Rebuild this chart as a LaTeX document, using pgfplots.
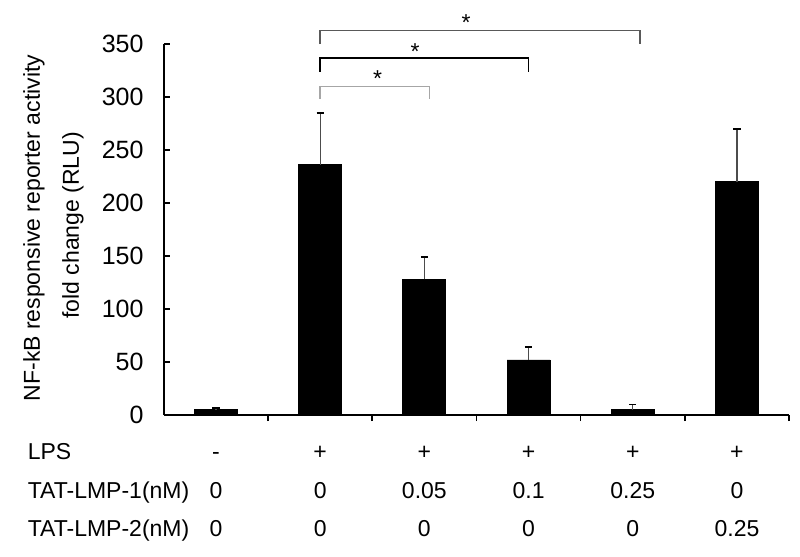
\documentclass[border=0pt]{standalone}
\usepackage{fontspec}
\setmainfont{Liberation Sans}
\usepackage{pgfplots}
\pgfplotsset{compat=1.18}
\pgfplotstableread{
x y e
0 5 2
1 236 49
2 128 21
3 52 12
4 5 5
5 220 50
}\datatab
\begin{document}
\begin{tikzpicture}[every node/.style={font=\fontsize{11.5}{13}\selectfont, inner sep=0pt}]
\begin{axis}[
 scale only axis, width=312.5pt, height=185.5pt,
 xmin=-0.5, xmax=5.5, ymin=0, ymax=350,
 axis lines=left, axis line style={-, line width=0.9pt},
 clip=false,
 xtick={0.5,1.5,2.5,3.5,4.5,5.5}, xticklabels={},
 ytick={0,50,...,350},
 tick align=inside, major tick length=3pt,
 tick style={line width=0.8pt, black},
 yticklabel style={inner sep=0pt, xshift=-10pt},
 /pgf/number format/assume math mode=true,
 ticklabel style={font=\fontsize{12.5}{14}\selectfont},
 ybar, bar width=21.5pt,
]
\addplot[fill=black, draw=black,
  error bars/.cd, y dir=plus, y explicit,
  error bar style={line width=0.6pt, color=black!70},
  error mark options={rotate=90, mark size=1.8pt, line width=0.9pt, black}]
  table[x=x, y=y, y error=e] {\datatab};

% significance brackets
\draw[gray!70, line width=0.7pt] (axis cs:1,298) -- (axis cs:1,310) -- (axis cs:2.05,310) -- (axis cs:2.05,298);
\draw[black, line width=0.9pt] (axis cs:1,323.6) -- (axis cs:1,337) -- (axis cs:3,337) -- (axis cs:3,323.6);
\draw[black!65, line width=0.7pt] (axis cs:1,350) -- (axis cs:1,363) -- (axis cs:4.07,363) -- (axis cs:4.07,350);
\node at (axis cs:1.55,317) {*};
\node at (axis cs:1.91,342.5) {*};
\node at (axis cs:2.40,370) {*};

% y label
\node[rotate=90] at (axis cs:-1.747,176.4) {NF-kB responsive reporter activity};
\node[rotate=90] at (axis cs:-1.372,179) {fold change (RLU)};

% table below
\node[anchor=base west] at (axis cs:-1.81,-41.5) {LPS};
\node[anchor=base west] at (axis cs:-1.81,-78.3) {TAT-LMP-1(nM)};
\node[anchor=base west] at (axis cs:-1.81,-114.2) {TAT-LMP-2(nM)};
\node[anchor=base] at (axis cs:0,-41.5) {-};
\node[anchor=base] at (axis cs:1,-41.5) {+};
\node[anchor=base] at (axis cs:2,-41.5) {+};
\node[anchor=base] at (axis cs:3,-41.5) {+};
\node[anchor=base] at (axis cs:4,-41.5) {+};
\node[anchor=base] at (axis cs:5,-41.5) {+};
\node[anchor=base] at (axis cs:0,-78.3) {0};
\node[anchor=base] at (axis cs:1,-78.3) {0};
\node[anchor=base] at (axis cs:2,-78.3) {0.05};
\node[anchor=base] at (axis cs:3,-78.3) {0.1};
\node[anchor=base] at (axis cs:4,-78.3) {0.25};
\node[anchor=base] at (axis cs:5,-78.3) {0};
\node[anchor=base] at (axis cs:0,-114.2) {0};
\node[anchor=base] at (axis cs:1,-114.2) {0};
\node[anchor=base] at (axis cs:2,-114.2) {0};
\node[anchor=base] at (axis cs:3,-114.2) {0};
\node[anchor=base] at (axis cs:4,-114.2) {0};
\node[anchor=base] at (axis cs:5,-114.2) {0.25};

\coordinate (bbSW) at (axis cs:-2.073,-133.0);
\coordinate (bbNE) at (axis cs:5.605,391.5);
\end{axis}
\pgfresetboundingbox
\useasboundingbox (bbSW) rectangle (bbNE);
\end{tikzpicture}
\end{document}
